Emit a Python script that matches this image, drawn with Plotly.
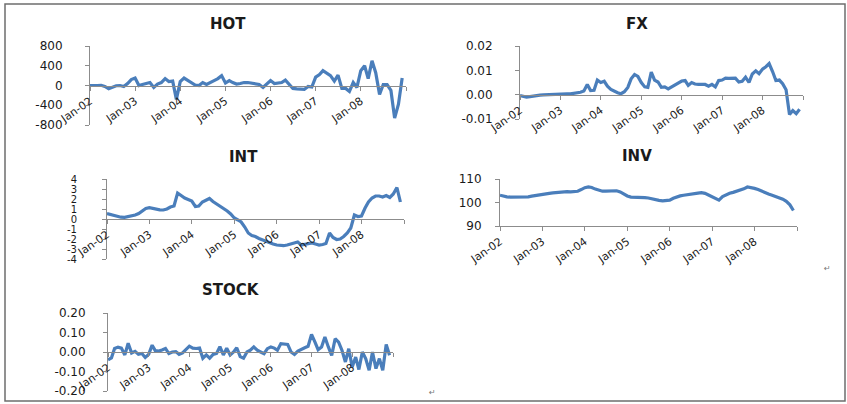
import plotly.graph_objects as go
import pandas as pd

# ---------------- data ----------------
months = pd.date_range("2002-01-01", periods=84, freq="MS")
year_ticks = list(pd.date_range("2002-01-01", "2009-01-01", freq="YS"))
year_labels = ["Jan-02", "Jan-03", "Jan-04", "Jan-05", "Jan-06", "Jan-07", "Jan-08", ""]

hot = [0, -5, 0, 5, -20, -65, -40, -5, 0, -20, 40, 120,
       150, 0, 20, 40, 60, -40, 30, 60, 140, 80, 90, -280,
       80, 150, 100, 50, 10, 0, 60, 20, 70, 100, 140, 200,
       50, 100, 60, 30, 40, 60, 60, 50, 40, 20, -40, 20,
       100, 40, 50, 60, 110, 30, -60, -70, -70, -80, -20, -30,
       170, 220, 300, 250, 200, 90, 210, -60, -60, -120, 60, -40,
       300, 400, 140, 500, 260, -180, 20, 20, -100, -660, -380, 150]

fx = [-0.0004, -0.0008, -0.001, -0.0008, -0.0005, -0.0003, -0.0002, -0.0001, 0.0, 0.0, 0.0, 0.0002,
      0.0004, 0.0004, 0.0003, 0.0003, 0.0005, 0.0007, 0.001, 0.0015, 0.0042, 0.0017, 0.0018, 0.006,
      0.005, 0.0055, 0.0035, 0.0022, 0.0014, 0.0008, 0.0004, 0.0012, 0.003, 0.0065, 0.0083, 0.0075,
      0.005, 0.0032, 0.003, 0.0093, 0.006, 0.0052, 0.003, 0.0032, 0.0024, 0.0032, 0.004, 0.0048,
      0.0056, 0.0058, 0.0038, 0.005, 0.0044, 0.0042, 0.0042, 0.0042, 0.0035, 0.0042, 0.0032, 0.0058,
      0.006, 0.0068, 0.0067, 0.0066, 0.0068, 0.0052, 0.0055, 0.0072, 0.005, 0.0085, 0.0098, 0.0086,
      0.0105, 0.0115, 0.0128, 0.0095, 0.0058, 0.006, 0.0045, 0.002, -0.0082, -0.0065, -0.0078, -0.006]

intr = [0.55, 0.45, 0.32, 0.25, 0.18, 0.17, 0.22, 0.3, 0.4, 0.55, 0.8, 1.05,
        1.13, 1.05, 0.97, 0.92, 0.9, 1.0, 1.2, 1.3, 2.6, 2.35, 2.1, 1.95,
        1.8, 1.25, 1.3, 1.7, 1.9, 2.05, 1.75, 1.5, 1.3, 1.1, 0.8, 0.5,
        0.1, -0.1, -0.3, -0.8, -1.4, -1.65, -1.75, -1.95, -2.1, -2.25, -2.4, -2.5,
        -2.6, -2.65, -2.67, -2.6, -2.5, -2.35, -2.3, -2.6, -2.55, -2.5, -2.4, -2.5,
        -2.6, -2.55, -2.45, -1.4, -1.85, -2.05, -2.0, -1.75, -1.4, -0.9, 0.4, 0.25,
        0.3, 1.1, 1.7, 2.1, 2.3, 2.3, 2.2, 2.35, 2.15, 2.5, 3.15, 1.7]

inv = [103.1, 102.6, 102.4, 102.3, 102.3, 102.3, 102.3, 102.3, 102.4, 102.7, 103.0, 103.3,
       103.5, 103.7, 103.9, 104.1, 104.3, 104.5, 104.5, 104.6, 104.5, 104.5, 104.8, 105.5,
       106.3, 106.6, 106.4, 105.7, 105.1, 104.8, 104.8, 104.8, 104.9, 105.0, 104.5, 103.6,
       102.8, 102.3, 102.3, 102.3, 102.2, 102.1, 101.9, 101.5, 101.2, 100.9, 100.7, 100.7,
       101.0, 101.8, 102.4, 102.8, 103.1, 103.4, 103.6, 103.8, 104.0, 104.2, 103.9, 103.2,
       102.4, 101.6, 101.0, 102.5, 103.3, 103.9, 104.3, 104.7, 105.2, 105.8, 106.6, 106.4,
       106.0, 105.5, 104.8, 104.2, 103.6, 103.1, 102.6, 102.1, 101.4, 100.5, 99.0, 96.6]

stock = [-0.04, -0.03, 0.018, 0.025, 0.02, -0.015, 0.045, -0.005, 0.003, -0.012, -0.008, -0.028,
         -0.012, 0.035, 0.007, 0.005, 0.01, 0.018, -0.008, 0.0, 0.002, -0.012, -0.005, 0.01,
         0.03, 0.02, 0.018, 0.02, -0.032, -0.015, -0.032, -0.012, -0.007, 0.027, -0.015, 0.019,
         -0.015, 0.0, 0.022, -0.024, -0.032, 0.0, 0.009, 0.026, 0.009, 0.0, -0.009, 0.017,
         0.026, 0.02, 0.009, 0.043, 0.042, 0.039, 0.0, -0.012, 0.005, 0.015, 0.022, 0.029,
         0.09, 0.051, 0.012, 0.026, 0.077, 0.026, -0.017, 0.068, 0.051, 0.009, -0.051, 0.017,
         -0.077, -0.026, -0.09, 0.0, -0.034, -0.094, 0.0, -0.085, -0.034, -0.094, 0.039, -0.017]

titles = ["HOT", "FX", "INT", "INV", "STOCK"]
series = [hot, fx, intr, inv, stock]
y_ranges = [[-800, 800], [-0.01, 0.02], [-4, 4], [90, 110], [-0.2, 0.2]]
y_ticks = [[-800, -400, 0, 400, 800],
           [-0.01, 0.0, 0.01, 0.02],
           [-4, -3, -2, -1, 0, 1, 2, 3, 4],
           [90, 100, 110],
           [-0.2, -0.1, 0.0, 0.1, 0.2]]
y_labels = [["-800", "-400", "0", "400", "800"],
            ["-0.01", "0.00", "0.01", "0.02"],
            ["-4", "-3", "-2", "-1", "0", "1", "2", "3", "4"],
            ["90", "100", "110"],
            ["-0.20", "-0.10", "0.00", "0.10", "0.20"]]

# ---------------- layout (pixel geometry) ----------------
W, H = 847, 404
def px(x):
    return x / W
def py(y):
    return 1 - y / H

# plot boxes: (left, right, top, bottom) in pixels
boxes = [(90, 406, 46, 125), (520, 803, 46, 119), (107, 404, 179, 259),
         (500, 797, 179, 226), (108, 393, 313, 391)]
title_pos = [(228, 24), (637, 24), (243, 157), (637, 156), (231, 290)]
standoffs = [20, 20, 23, 11, 15]
yfont = [12, 12, 10, 12, 12]
xaxis_at_zero = [True, True, True, False, True]

LINE = "#4A7EBB"
AX = "#8C8C8C"
TXT = "#1A1A1A"
FONT = "DejaVu Sans"

fig = go.Figure()
layout = {}
for i in range(5):
    n = i + 1
    xa = "x" if n == 1 else f"x{n}"
    ya = "y" if n == 1 else f"y{n}"
    fig.add_trace(go.Scatter(x=months, y=series[i], xaxis=xa, yaxis=ya, mode="lines",
                             line=dict(color=LINE, width=3.2), showlegend=False,
                             hoverinfo="x+y"))
    l, r, t, b = boxes[i]
    ydom = [py(b), py(t)]
    ymin, ymax = y_ranges[i]
    xkw = dict(domain=[px(l), px(r)], type="date", automargin=False,
               range=[months[0], year_ticks[-1]],
               tickmode="array", tickvals=year_ticks, ticktext=year_labels,
               tickangle=-35, showline=True, linecolor=AX, linewidth=1,
               ticks="outside", ticklen=4, tickcolor=AX, showgrid=False, zeroline=False,
               tickfont=dict(family=FONT, size=11, color=TXT))
    if xaxis_at_zero[i]:
        xkw["anchor"] = "free"
        xkw["position"] = ydom[0] + (0 - ymin) / (ymax - ymin) * (ydom[1] - ydom[0])
    else:
        xkw["anchor"] = ya
    ykw = dict(domain=ydom, range=[ymin, ymax], anchor=xa, automargin=False,
               tickmode="array", tickvals=y_ticks[i], ticktext=y_labels[i],
               showline=True, linecolor=AX, linewidth=1, ticks="outside", ticklen=4,
               tickcolor=AX, showgrid=False, zeroline=False,
               ticklabelstandoff=standoffs[i],
               tickfont=dict(family=FONT, size=yfont[i], color=TXT))
    layout["xaxis" if n == 1 else f"xaxis{n}"] = xkw
    layout["yaxis" if n == 1 else f"yaxis{n}"] = ykw

annotations = []
for i in range(5):
    tx, ty = title_pos[i]
    annotations.append(dict(text=f"<b>{titles[i]}</b>", x=px(tx), y=py(ty), xref="paper",
                            yref="paper", showarrow=False, xanchor="center", yanchor="middle",
                            font=dict(family=FONT, size=15, color=TXT)))
for (mx, my) in [(833, 268), (432, 399)]:
    annotations.append(dict(text="↵", x=px(mx), y=py(my), xref="paper", yref="paper",
                            showarrow=False, font=dict(family=FONT, size=8, color="#777777")))

fig.update_layout(
    width=W, height=H, autosize=False,
    margin=dict(l=0, r=0, t=0, b=0, autoexpand=False),
    paper_bgcolor="white", plot_bgcolor="white",
    annotations=annotations,
    shapes=[dict(type="rect", xref="paper", yref="paper",
                 x0=px(5), x1=px(845), y0=py(401), y1=py(4),
                 line=dict(color="#6E6E6E", width=1.5))],
    **layout,
)

fig.write_html("out.html", config={"displayModeBar": False},
               post_script="document.body.style.margin='0px';document.body.style.overflow='hidden';")
